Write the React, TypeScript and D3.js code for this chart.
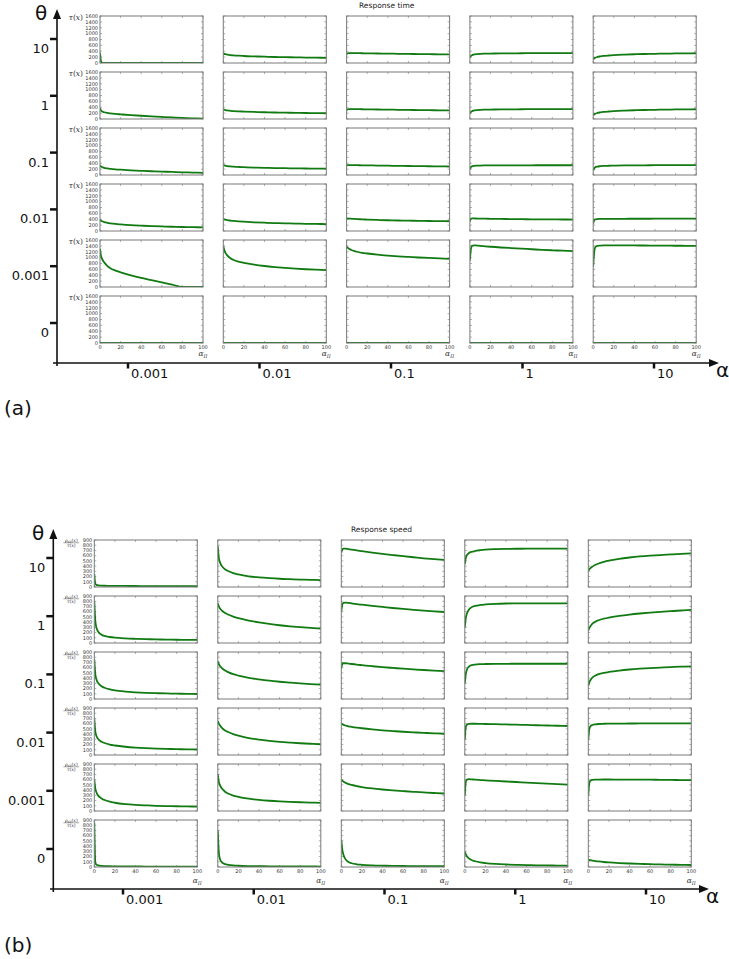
import React from "react";
import * as d3 from "d3";

// ---------- data ----------
const alphaLabels = ["0.001", "0.01", "0.1", "1", "10"];
const thetaLabels = ["10", "1", "0.1", "0.01", "0.001", "0"];
const alphaII = [0, 1, 2, 4, 7, 10, 15, 20, 30, 40, 50, 60, 70, 80, 90, 100];
const xTicks = [0, 20, 40, 60, 80, 100];
const timeTicks = [0, 200, 400, 600, 800, 1000, 1200, 1400, 1600];
const speedTicks = [0, 100, 200, 300, 400, 500, 600, 700, 800, 900];

// Response time tau(x), rows = theta (10,1,0.1,0.01,0.001,0), cols = alpha
const timeTheta10 = [
  [350, 60, 15, 5, 2, 1, 0, 0, 0, 0, 0, 0, 0, 0, 0, 0],
  [330, 310, 300, 285, 270, 260, 248, 238, 225, 214, 205, 198, 192, 186, 181, 176],
  [310, 330, 335, 338, 337, 335, 332, 329, 324, 319, 314, 309, 304, 300, 296, 293],
  [190, 240, 265, 290, 305, 312, 318, 322, 327, 330, 332, 334, 336, 337, 338, 339],
  [120, 160, 180, 205, 225, 240, 256, 268, 285, 298, 307, 314, 320, 325, 329, 332],
];
const timeTheta1 = [
  [370, 290, 260, 230, 205, 190, 172, 158, 132, 110, 90, 70, 52, 36, 22, 10],
  [330, 315, 305, 292, 280, 270, 260, 252, 240, 230, 222, 215, 209, 204, 200, 196],
  [310, 330, 335, 338, 337, 335, 332, 329, 324, 319, 314, 309, 304, 300, 296, 293],
  [190, 240, 265, 290, 305, 312, 318, 322, 327, 330, 332, 334, 336, 337, 338, 339],
  [120, 160, 180, 205, 225, 240, 256, 268, 285, 298, 307, 314, 320, 325, 329, 332],
];
const timeTheta01 = [
  [330, 290, 270, 245, 225, 210, 192, 180, 160, 143, 128, 115, 103, 92, 82, 73],
  [340, 325, 315, 303, 292, 283, 273, 266, 254, 245, 237, 231, 226, 222, 218, 215],
  [320, 335, 338, 338, 336, 334, 331, 328, 322, 316, 311, 306, 302, 298, 294, 290],
  [200, 270, 295, 310, 318, 322, 325, 327, 329, 330, 331, 331, 332, 332, 332, 332],
  [150, 230, 260, 285, 300, 308, 315, 320, 326, 329, 331, 333, 334, 335, 336, 337],
];
const timeTheta001 = [
  [390, 350, 330, 305, 280, 262, 240, 225, 200, 182, 167, 155, 145, 137, 130, 124],
  [410, 395, 385, 370, 355, 343, 328, 316, 297, 282, 270, 260, 252, 245, 240, 235],
  [420, 425, 424, 420, 413, 406, 397, 389, 376, 366, 358, 351, 345, 340, 336, 332],
  [320, 420, 430, 428, 424, 421, 418, 415, 410, 406, 402, 399, 396, 394, 392, 390],
  [250, 370, 395, 405, 410, 412, 414, 415, 416, 417, 417, 418, 418, 418, 418, 418],
];
const timeTheta0001 = [
  [1300, 1060, 960, 840, 720, 640, 560, 500, 395, 308, 235, 160, 80, 0, 0, 0],
  [1400, 1250, 1170, 1070, 980, 920, 860, 820, 760, 715, 680, 650, 625, 605, 590, 575],
  [1380, 1340, 1310, 1270, 1230, 1200, 1165, 1140, 1100, 1070, 1045, 1025, 1005, 990, 975, 960],
  [900, 1300, 1400, 1420, 1410, 1400, 1385, 1370, 1345, 1325, 1305, 1285, 1265, 1250, 1235, 1220],
  [700, 1200, 1350, 1400, 1410, 1415, 1418, 1418, 1416, 1414, 1412, 1410, 1408, 1405, 1402, 1400],
];
const timeTheta0 = [
  [0, 0, 0, 0, 0, 0, 0, 0, 0, 0, 0, 0, 0, 0, 0, 0],
  [0, 0, 0, 0, 0, 0, 0, 0, 0, 0, 0, 0, 0, 0, 0, 0],
  [0, 0, 0, 0, 0, 0, 0, 0, 0, 0, 0, 0, 0, 0, 0, 0],
  [0, 0, 0, 0, 0, 0, 0, 0, 0, 0, 0, 0, 0, 0, 0, 0],
  [0, 0, 0, 0, 0, 0, 0, 0, 0, 0, 0, 0, 0, 0, 0, 0],
];

// Response speed rho_ab(x)/tau(x)
const speedTheta10 = [
  [250, 60, 40, 30, 26, 24, 22, 21, 20, 19, 18, 18, 17, 17, 16, 16],
  [780, 560, 480, 400, 340, 305, 265, 240, 205, 185, 170, 158, 150, 143, 137, 132],
  [660, 720, 735, 735, 725, 715, 700, 686, 660, 635, 612, 590, 570, 550, 533, 518],
  [440, 560, 610, 650, 675, 690, 705, 715, 725, 730, 732, 733, 734, 734, 734, 734],
  [310, 340, 360, 390, 425, 450, 480, 505, 540, 565, 585, 600, 612, 623, 633, 643],
];
const speedTheta1 = [
  [800, 420, 300, 210, 160, 135, 115, 102, 88, 80, 74, 69, 65, 62, 60, 58],
  [760, 700, 665, 620, 575, 545, 505, 475, 430, 395, 365, 340, 320, 303, 288, 275],
  [600, 740, 770, 775, 770, 760, 745, 733, 710, 690, 670, 652, 636, 620, 606, 594],
  [300, 480, 560, 640, 690, 710, 728, 738, 750, 756, 758, 760, 760, 760, 760, 760],
  [240, 290, 320, 370, 410, 435, 465, 488, 520, 545, 565, 582, 597, 610, 622, 633],
];
const speedTheta01 = [
  [760, 470, 380, 300, 245, 215, 185, 165, 142, 128, 118, 111, 106, 102, 99, 96],
  [720, 670, 635, 590, 545, 515, 475, 447, 405, 375, 350, 330, 313, 298, 286, 276],
  [590, 670, 685, 685, 678, 670, 658, 648, 628, 610, 595, 580, 567, 555, 545, 535],
  [300, 480, 560, 620, 650, 660, 667, 670, 673, 674, 675, 675, 675, 675, 675, 675],
  [250, 320, 360, 410, 450, 475, 500, 518, 545, 565, 580, 592, 602, 611, 619, 626],
];
const speedTheta001 = [
  [700, 450, 370, 300, 255, 230, 200, 182, 158, 142, 131, 123, 117, 112, 108, 105],
  [650, 600, 570, 520, 470, 440, 400, 370, 325, 295, 272, 253, 238, 225, 215, 206],
  [600, 590, 580, 565, 550, 540, 525, 512, 490, 472, 458, 445, 434, 424, 415, 407],
  [300, 540, 580, 595, 598, 598, 596, 594, 590, 585, 580, 575, 570, 565, 560, 555],
  [300, 500, 550, 575, 588, 594, 598, 600, 602, 603, 604, 604, 604, 604, 604, 604],
];
const speedTheta0001 = [
  [600, 430, 360, 290, 240, 210, 178, 158, 133, 118, 108, 100, 95, 91, 88, 85],
  [700, 560, 500, 430, 370, 335, 295, 270, 235, 212, 196, 184, 175, 168, 162, 157],
  [600, 580, 565, 540, 515, 498, 475, 458, 432, 412, 395, 381, 368, 356, 345, 335],
  [300, 560, 600, 610, 605, 600, 593, 587, 575, 565, 555, 545, 535, 525, 515, 505],
  [300, 540, 580, 595, 600, 602, 603, 603, 602, 601, 600, 599, 597, 595, 593, 590],
];
const speedTheta0 = [
  [850, 80, 45, 30, 22, 18, 15, 13, 11, 10, 9, 9, 8, 8, 8, 7],
  [700, 280, 160, 90, 55, 42, 30, 24, 18, 15, 13, 12, 11, 10, 10, 9],
  [520, 330, 240, 150, 95, 72, 52, 42, 31, 25, 21, 19, 17, 16, 15, 14],
  [290, 240, 205, 165, 130, 110, 88, 75, 58, 48, 41, 36, 33, 30, 28, 26],
  [140, 135, 130, 122, 113, 106, 96, 88, 76, 67, 60, 54, 49, 45, 41, 38],
];

const timeRows = [timeTheta10, timeTheta1, timeTheta01, timeTheta001, timeTheta0001, timeTheta0];
const speedRows = [speedTheta10, speedTheta1, speedTheta01, speedTheta001, speedTheta0001, speedTheta0];

// ---------- styling ----------
const FONT = "'DejaVu Sans', sans-serif";
const SERIF = "'DejaVu Serif', serif";
const GREEN = "#127a12";
const FRAME = "#7a7a7a";

type PanelProps = {
  id: string;
  x0: number;
  y0: number;
  w: number;
  h: number;
  ymax: number;
  yticks: number[];
  values: number[];
  showY: boolean;
  showX: boolean;
  kind: "time" | "speed";
  xLabelDy: number;
};

function Panel(p: PanelProps) {
  const xs = d3.scaleLinear().domain([0, 100]).range([p.x0, p.x0 + p.w]);
  const ys = d3.scaleLinear().domain([0, p.ymax]).range([p.y0 + p.h, p.y0]);
  const line = d3
    .line<number>()
    .x((_, i) => xs(alphaII[i]))
    .y((v) => ys(v))
    .curve(d3.curveMonotoneX);
  const tl = 2;
  return (
    <g>
      <defs>
        <clipPath id={p.id}>
          <rect x={p.x0} y={p.y0 - 1} width={p.w} height={p.h + 1} />
        </clipPath>
      </defs>
      <rect x={p.x0} y={p.y0} width={p.w} height={p.h} fill="white" />
      {xTicks.map((t) => (
        <g key={"xt" + t} stroke={FRAME} strokeWidth={0.6}>
          <line x1={xs(t)} x2={xs(t)} y1={p.y0 + p.h} y2={p.y0 + p.h - tl} />
          <line x1={xs(t)} x2={xs(t)} y1={p.y0} y2={p.y0 + tl} />
        </g>
      ))}
      {p.yticks.map((t) => (
        <g key={"yt" + t} stroke={FRAME} strokeWidth={0.6}>
          <line x1={p.x0} x2={p.x0 + tl} y1={ys(t)} y2={ys(t)} />
          <line x1={p.x0 + p.w} x2={p.x0 + p.w - tl} y1={ys(t)} y2={ys(t)} />
        </g>
      ))}
      <path
        d={line(p.values) || ""}
        fill="none"
        stroke={GREEN}
        strokeWidth={1.8}
        clipPath={`url(#${p.id})`}
      />
      <rect x={p.x0} y={p.y0} width={p.w} height={p.h} fill="none" stroke={FRAME} strokeWidth={1} />
      {p.showY &&
        p.yticks.map((t) => (
          <text
            key={"yl" + t}
            x={p.x0 - 2}
            y={ys(t) + 1.8}
            fontSize={5}
            fontFamily={FONT}
            fill="#333"
            textAnchor="end"
          >
            {t}
          </text>
        ))}
      {p.showY && p.kind === "time" && (
        <text x={p.x0 - 17} y={p.y0 + 4} fontSize={7.5} fontFamily={SERIF} fill="#333" textAnchor="end">
          <tspan fontStyle="italic">τ</tspan>(<tspan fontStyle="italic">x</tspan>)
        </text>
      )}
      {p.showY && p.kind === "speed" && (
        <g fill="#333" fontFamily={SERIF}>
          <text x={p.x0 - 23} y={p.y0 + 1.5} fontSize={4.6} textAnchor="middle">
            <tspan fontStyle="italic">ρ</tspan>
            <tspan fontSize={3.2} dy={1} fontStyle="italic">ab</tspan>
            <tspan dy={-1}>(</tspan>
            <tspan fontStyle="italic">x</tspan>)
          </text>
          <line x1={p.x0 - 31} x2={p.x0 - 15} y1={p.y0 + 2.8} y2={p.y0 + 2.8} stroke="#333" strokeWidth={0.4} />
          <text x={p.x0 - 23} y={p.y0 + 7} fontSize={4.6} textAnchor="middle">
            <tspan fontStyle="italic">τ</tspan>(<tspan fontStyle="italic">x</tspan>)
          </text>
        </g>
      )}
      {p.showX &&
        xTicks.map((t) => (
          <text
            key={"xl" + t}
            x={xs(t)}
            y={p.y0 + p.h + 6}
            fontSize={5}
            fontFamily={FONT}
            fill="#333"
            textAnchor="middle"
          >
            {t}
          </text>
        ))}
      {p.showX && (
        <text x={xs(100)} y={p.y0 + p.h + p.xLabelDy} fontSize={7.5} fontFamily={SERIF} fill="#333" textAnchor="middle">
          <tspan fontStyle="italic">α</tspan>
          <tspan fontSize={5} dy={1.5} fontStyle="italic">II</tspan>
        </text>
      )}
    </g>
  );
}

type PartProps = {
  name: string;
  title: string;
  titleX: number;
  titleY: number;
  colX0: number;
  colStep: number;
  rowY0: number;
  rowStep: number;
  pw: number;
  ph: number;
  ymax: number;
  yticks: number[];
  rows: number[][][];
  kind: "time" | "speed";
  xLabelDy: number;
  axisX: number;
  axisY: number;
  arrowTopY: number;
  axisLeftX: number;
  arrowRightX: number;
  thetaTickRange: [number, number];
  alphaTickRange: [number, number];
  thetaLabelX: number;
  letter: string;
  letterY: number;
};

function Part(p: PartProps) {
  const thetaScale = d3.scaleLinear().domain([0, thetaLabels.length - 1]).range(p.thetaTickRange);
  const alphaScale = d3.scaleLinear().domain([0, alphaLabels.length - 1]).range(p.alphaTickRange);
  const panels: JSX.Element[] = [];
  p.rows.forEach((row, ri) => {
    row.forEach((vals, ci) => {
      panels.push(
        <Panel
          key={`${p.name}-${ri}-${ci}`}
          id={`clip-${p.name}-${ri}-${ci}`}
          x0={p.colX0 + ci * p.colStep}
          y0={p.rowY0 + ri * p.rowStep}
          w={p.pw}
          h={p.ph}
          ymax={p.ymax}
          yticks={p.yticks}
          values={vals}
          showY={ci === 0}
          showX={ri === p.rows.length - 1}
          kind={p.kind}
          xLabelDy={p.xLabelDy}
        />
      );
    });
  });
  const ah = 10;
  const aw = 4;
  return (
    <g>
      <line x1={p.axisX} x2={p.axisX} y1={p.arrowTopY + ah - 1} y2={p.axisY + 3} stroke="#111" strokeWidth={1.6} />
      <polygon
        points={`${p.axisX},${p.arrowTopY} ${p.axisX - aw},${p.arrowTopY + ah} ${p.axisX + aw},${p.arrowTopY + ah}`}
        fill="#111"
      />
      <line x1={p.axisLeftX} x2={p.arrowRightX - ah + 1} y1={p.axisY} y2={p.axisY} stroke="#111" strokeWidth={1.6} />
      <polygon
        points={`${p.arrowRightX},${p.axisY} ${p.arrowRightX - ah},${p.axisY - aw} ${p.arrowRightX - ah},${p.axisY + aw}`}
        fill="#111"
      />
      <text x={p.thetaLabelX} y={p.arrowTopY + 11} fontSize={20} fontFamily={FONT} fill="#111">
        θ
      </text>
      <text x={p.arrowRightX - 3} y={p.axisY + 14} fontSize={20} fontFamily={FONT} fill="#111">
        α
      </text>
      {thetaLabels.map((t, i) => (
        <g key={"th" + t}>
          <line
            x1={p.axisX - 7}
            x2={p.axisX}
            y1={thetaScale(i)}
            y2={thetaScale(i)}
            stroke="#111"
            strokeWidth={2.5}
          />
          <text
            x={p.axisX - 8}
            y={thetaScale(i) + 14}
            fontSize={13}
            fontFamily={FONT}
            fill="#111"
            textAnchor="end"
          >
            {t}
          </text>
        </g>
      ))}
      {alphaLabels.map((t, i) => (
        <g key={"al" + t}>
          <line
            x1={alphaScale(i)}
            x2={alphaScale(i)}
            y1={p.axisY}
            y2={p.axisY + 5.5}
            stroke="#111"
            strokeWidth={2.5}
          />
          <text x={alphaScale(i) + 3} y={p.axisY + 15} fontSize={13} fontFamily={FONT} fill="#111">
            {t}
          </text>
        </g>
      ))}
      {panels}
      <text x={p.titleX} y={p.titleY} fontSize={7.5} fontFamily={FONT} fill="#222">
        {p.title}
      </text>
      <text x={4} y={p.letterY} fontSize={20} fontFamily={FONT} fill="#111">
        {p.letter}
      </text>
    </g>
  );
}

export default function App() {
  return (
    <svg
      width={729}
      height={959}
      viewBox="0 0 729 959"
      style={{ position: "absolute", left: 0, top: 0, background: "white" }}
    >
      <rect x={0} y={0} width={729} height={959} fill="white" />
      <Part
        name="a"
        title="Response time"
        titleX={359}
        titleY={8}
        colX0={100}
        colStep={123.3}
        rowY0={16}
        rowStep={56}
        pw={103}
        ph={47}
        ymax={1600}
        yticks={timeTicks}
        rows={timeRows}
        kind="time"
        xLabelDy={13}
        axisX={57}
        axisY={363}
        arrowTopY={9}
        axisLeftX={53}
        arrowRightX={719}
        thetaTickRange={[39, 323]}
        alphaTickRange={[128, 654]}
        thetaLabelX={35}
        letter="(a)"
        letterY={415}
      />
      <Part
        name="b"
        title="Response speed"
        titleX={351}
        titleY={532}
        colX0={94.3}
        colStep={123.5}
        rowY0={540}
        rowStep={56}
        pw={103}
        ph={47}
        ymax={900}
        yticks={speedTicks}
        rows={speedRows}
        kind="speed"
        xLabelDy={16}
        axisX={53.3}
        axisY={889}
        arrowTopY={529}
        axisLeftX={50}
        arrowRightX={709}
        thetaTickRange={[558, 849]}
        alphaTickRange={[123, 646]}
        thetaLabelX={32}
        letter="(b)"
        letterY={952}
      />
    </svg>
  );
}
